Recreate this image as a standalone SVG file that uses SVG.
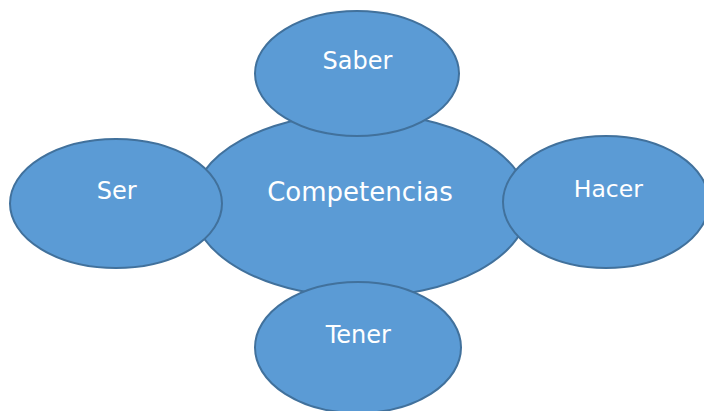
<svg xmlns="http://www.w3.org/2000/svg" width="704" height="411" viewBox="0 0 704 411">
<style>
.n{fill:#5B9BD5;stroke:#41719C;stroke-width:2}
.t{fill:#FFFFFF;font-family:"DejaVu Sans",Verdana,sans-serif;text-anchor:middle}
</style>
<rect width="704" height="411" fill="#FFFFFF"/>
<g id="connectors"></g>
<g id="competencias"><ellipse class="n" cx="360.5" cy="205" rx="168" ry="92"/><text class="t" x="360" y="201" font-size="26">Competencias</text></g>
<g id="saber"><ellipse class="n" cx="357" cy="73.5" rx="102" ry="62.5"/><text class="t" x="357.5" y="69.3" font-size="24">Saber</text></g>
<g id="ser"><ellipse class="n" cx="116" cy="203.5" rx="106" ry="64.5"/><text class="t" x="116.7" y="199.3" font-size="24">Ser</text></g>
<g id="hacer"><ellipse class="n" cx="606" cy="202" rx="103" ry="66"/><text class="t" x="608.3" y="196.7" font-size="23.5">Hacer</text></g>
<g id="tener"><ellipse class="n" cx="358" cy="347.5" rx="103" ry="65.5"/><text class="t" x="358.3" y="342.7" font-size="24">Tener</text></g>
</svg>
